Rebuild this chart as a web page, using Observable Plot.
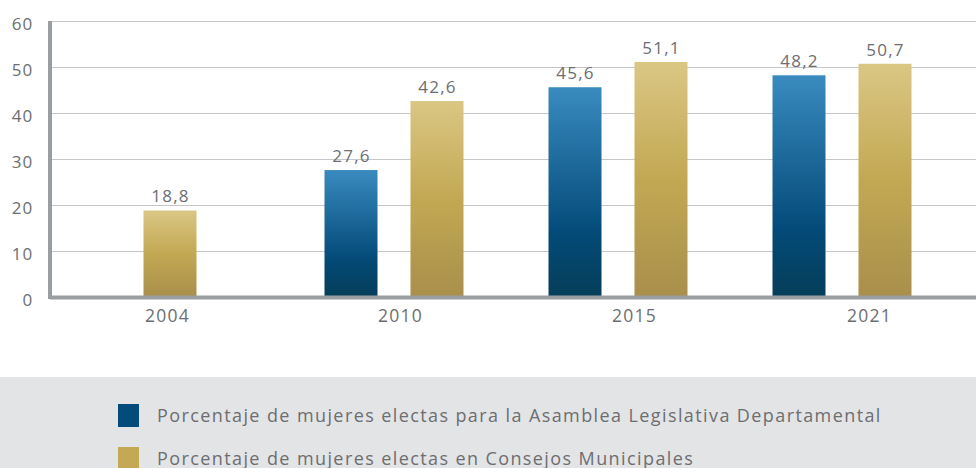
<!DOCTYPE html>
<html>
<head>
<meta charset="utf-8">
<script src="https://cdn.jsdelivr.net/npm/d3@7"></script>
<script src="https://cdn.jsdelivr.net/npm/@observablehq/plot@0.6"></script>
<style>
  html, body { margin: 0; padding: 0; background: #fff; }
  body { width: 976px; height: 468px; overflow: hidden; font-family: "Open Sans", Lato, sans-serif; }
  #chart svg { display: block; }
  #chart svg text { letter-spacing: 1.2px; }
  .legend { background: #e3e4e6; height: 91px; position: relative; }
  .legend .row { position: absolute; left: 118px; display: flex; align-items: center; font-size: 18px; color: #6d6e71; letter-spacing: 1.4px; }
  .legend .sw { width: 21px; height: 23px; margin-right: 18px; }
</style>
</head>
<body>
<div id="chart"></div>
<div class="legend">
  <div class="row" style="top:26px"><span class="sw" style="background:#034b7a"></span><span id="l1"></span></div>
  <div class="row" style="top:69px"><span class="sw" style="background:#c4a954"></span><span id="l2"></span></div>
</div>
<script>
const years = ["2004", "2010", "2015", "2021"];
const asamblea = [null, 27.6, 45.6, 48.2];
const concejos = [18.8, 42.6, 51.1, 50.7];
const seriesNames = [
  "Porcentaje de mujeres electas para la Asamblea Legislativa Departamental",
  "Porcentaje de mujeres electas en Consejos Municipales"
];
const yTicks = [0, 10, 20, 30, 40, 50, 60];

document.getElementById("l1").textContent = seriesNames[0];
document.getElementById("l2").textContent = seriesNames[1];

const blueRows = years.map((y, i) => ({year: y, value: asamblea[i]})).filter(d => d.value != null);
const goldRows = years.map((y, i) => ({year: y, value: concejos[i], solo: asamblea[i] == null}));
const goldPaired = goldRows.filter(d => !d.solo);
const goldSolo = goldRows.filter(d => d.solo);

const fmt = v => v.toFixed(1).replace(".", ",");
const textColor = "#6d6e71";
const inset = 85.5;
const off = 43;
// the reference's year labels sit slightly right of their bar groups, drifting further right
const labelShift = [-3, 6, 16, 27];

const defs = () => {
  const d = d3.create("svg:defs");
  const gb = d.append("linearGradient").attr("id", "gBlue").attr("x1", 0).attr("y1", 0).attr("x2", 0).attr("y2", 1);
  gb.append("stop").attr("offset", "0%").attr("stop-color", "#3a8bbf");
  gb.append("stop").attr("offset", "70%").attr("stop-color", "#034a78");
  gb.append("stop").attr("offset", "100%").attr("stop-color", "#053e58");
  const gg = d.append("linearGradient").attr("id", "gGold").attr("x1", 0).attr("y1", 0).attr("x2", 0).attr("y2", 1);
  gg.append("stop").attr("offset", "0%").attr("stop-color", "#dac784");
  gg.append("stop").attr("offset", "50%").attr("stop-color", "#c3a853");
  gg.append("stop").attr("offset", "100%").attr("stop-color", "#a98f4b");
  return d.node();
};

const leftAxisLine = (index, scales) => {
  const x = 50;
  const g = d3.create("svg:line")
    .attr("x1", x).attr("x2", x)
    .attr("y1", scales.y(60)).attr("y2", scales.y(0) + 2)
    .attr("stroke", "#9b9ea1").attr("stroke-width", 4);
  return g.node();
};

const chart = Plot.plot({
  width: 976,
  height: 377,
  marginLeft: 50,
  marginRight: 0,
  marginTop: 21,
  marginBottom: 80,
  style: {fontFamily: "'Open Sans', Lato, sans-serif", fontSize: "17px", color: textColor, background: "#fff"},
  x: {domain: years, range: [58, 954], padding: 0, paddingOuter: 0, label: null},
  y: {domain: [0, 60], label: null},
  marks: [
    defs,
    Plot.gridY(yTicks.slice(1), {stroke: "#c6c6c6", strokeOpacity: 1, strokeWidth: 1}),
    Plot.axisY(yTicks, {tickSize: 0, tickPadding: 17, dy: 3, fill: textColor, fontSize: 17, label: null}),
    ...years.map((yr, i) => Plot.axisX([yr], {tickSize: 0, tickPadding: 12, fill: textColor, fontSize: 17.5, dx: labelShift[i], label: null})),
    Plot.barY(blueRows, {x: "year", y: "value", fill: "url(#gBlue)", insetLeft: inset, insetRight: inset, dx: -off}),
    Plot.barY(goldPaired, {x: "year", y: "value", fill: "url(#gGold)", insetLeft: inset, insetRight: inset, dx: off}),
    Plot.barY(goldSolo, {x: "year", y: "value", fill: "url(#gGold)", insetLeft: inset, insetRight: inset}),
    Plot.text(blueRows, {x: "year", y: "value", text: d => fmt(d.value), dx: -off, dy: -14, fill: textColor, fontSize: 17}),
    Plot.text(goldPaired, {x: "year", y: "value", text: d => fmt(d.value), dx: off, dy: -14, fill: textColor, fontSize: 17}),
    Plot.text(goldSolo, {x: "year", y: "value", text: d => fmt(d.value), dy: -14, fill: textColor, fontSize: 17}),
    Plot.ruleY([0], {stroke: "#9b9ea1", strokeWidth: 4}),
    leftAxisLine
  ]
});
document.getElementById("chart").appendChild(chart);
</script>
</body>
</html>
